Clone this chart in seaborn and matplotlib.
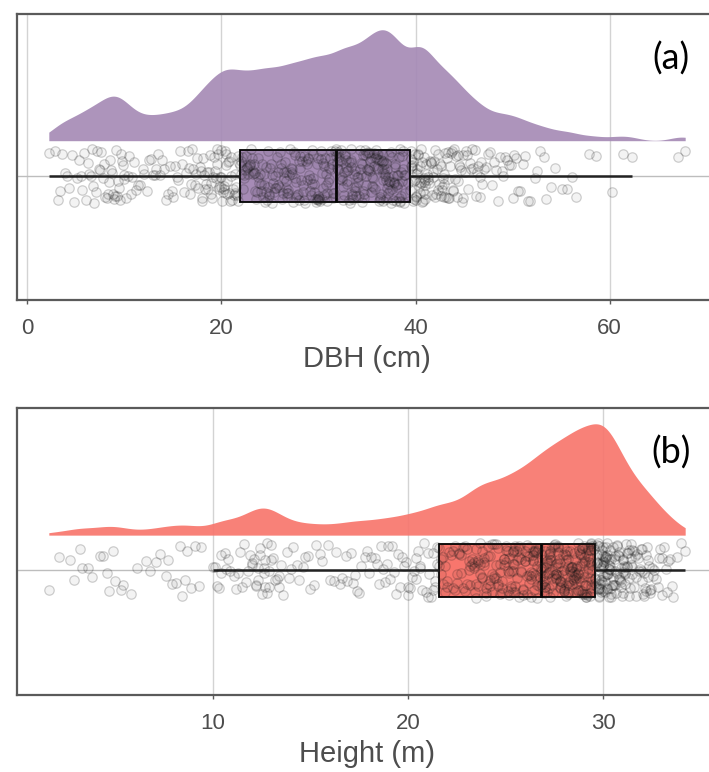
import numpy as np
import pandas as pd
import matplotlib
matplotlib.use("Agg")
import matplotlib.pyplot as plt
import seaborn as sns

# Diameter at breast height (cm), trees of sampling block 1
dbh_cm_block1 = [
    2.2,
    3.4, 3.9, 4.3, 4.8,
    5.1, 5.5, 5.8, 6.2, 6.5, 6.8,
    7.1, 7.4, 7.6, 7.9, 8.2, 8.5, 8.7, 8.9,
    9.1, 9.3, 9.5, 9.7, 9.9, 10.2, 10.5, 10.8,
    11.2, 11.6, 12.0, 12.5, 12.9,
    13.3, 13.7, 14.1, 14.5, 14.9,
    15.2, 15.5, 15.9, 16.3, 16.6, 16.9,
    17.1, 17.4, 17.6, 17.9, 18.0, 18.1, 18.3, 18.5, 18.7, 18.9,
    19.1, 19.3, 19.5, 19.6, 19.7, 19.8, 20.0, 20.1, 20.3, 20.4, 20.5, 20.6, 20.8, 20.9,
    21.1, 21.3, 21.4, 21.6, 21.7, 21.9, 22.0, 22.2, 22.3, 22.5, 22.6, 22.8, 22.9,
    23.1, 23.2, 23.4, 23.5, 23.7, 23.8, 24.0, 24.1, 24.3, 24.4, 24.6, 24.7, 24.8, 24.9,
    25.1, 25.2, 25.4, 25.5, 25.7, 25.8, 26.0, 26.1, 26.3, 26.4, 26.6, 26.7, 26.8, 26.9,
    27.1, 27.2, 27.3, 27.5, 27.6, 27.7, 27.9, 28.0, 28.1, 28.3, 28.4, 28.5, 28.7, 28.8, 28.9,
    29.1, 29.2, 29.3, 29.4, 29.5, 29.7, 29.8, 29.9, 30.0, 30.1, 30.3, 30.4, 30.5, 30.6, 30.7,
    30.8, 30.9,
    31.1, 31.2, 31.3, 31.4, 31.5, 31.7, 31.8, 31.9, 32.0, 32.1, 32.3, 32.4, 32.5, 32.6, 32.7,
    32.8, 32.9,
    33.1, 33.2, 33.3, 33.4, 33.5, 33.6, 33.7, 33.8, 33.9, 34.1, 34.2, 34.3, 34.4, 34.5, 34.6,
    34.7, 34.8, 34.9,
    35.1, 35.2, 35.3, 35.4, 35.5, 35.6, 35.7, 35.8, 35.9, 36.0, 36.0, 36.1, 36.2, 36.3, 36.4,
    36.5, 36.5, 36.6, 36.7, 36.8, 36.9,
    37.0, 37.1, 37.2, 37.3, 37.4, 37.5, 37.6, 37.7, 37.8, 37.9, 38.0, 38.1, 38.2, 38.3, 38.4,
    38.4, 38.5, 38.6, 38.7, 38.8, 38.9,
    39.2, 39.4, 39.5, 39.6, 39.7, 39.8, 39.9, 40.0, 40.1, 40.2, 40.3, 40.4, 40.5, 40.6, 40.7,
    40.8, 40.9, 40.95,
    41.0, 41.1, 41.3, 41.4, 41.6, 41.7, 41.8, 42.0, 42.1, 42.3, 42.4, 42.6, 42.7, 42.8, 42.9,
    43.1, 43.3, 43.4, 43.6, 43.8, 43.9, 44.1, 44.3, 44.4, 44.6, 44.8, 44.9,
    45.2, 45.4, 45.7, 45.9, 46.2, 46.4, 46.7, 46.9,
    47.3, 47.7, 48.1, 48.5, 48.9,
    49.2, 49.6, 50.0, 50.4, 50.8,
    51.3, 51.8, 52.3, 52.8,
    53.5, 54.4,
    55.6, 56.1,
    57.9,
    61.4,
    62.3,
    67.1, 67.8,
]

# Diameter at breast height (cm), trees of sampling block 2
dbh_cm_block2 = [
    2.8,
    3.1, 3.6, 4.1, 4.6,
    5.3, 5.6, 6.0, 6.3, 6.6, 6.9,
    7.2, 7.5, 7.8, 8.0, 8.3, 8.4, 8.6, 8.8,
    9.0, 9.2, 9.4, 9.6, 9.8, 10.0, 10.4, 10.7,
    11.0, 11.4, 11.9, 12.3, 12.7,
    13.1, 13.5, 13.9, 14.3, 14.7,
    15.0, 15.4, 15.7, 16.1, 16.5, 16.8,
    17.0, 17.3, 17.5, 17.8, 18.0, 18.2, 18.4, 18.6, 18.8, 18.9,
    19.0, 19.2, 19.4, 19.5, 19.7, 19.9, 20.0, 20.2, 20.3, 20.5, 20.6, 20.7, 20.8, 20.95,
    21.0, 21.2, 21.4, 21.5, 21.7, 21.8, 22.0, 22.1, 22.3, 22.4, 22.6, 22.7, 22.9,
    23.0, 23.2, 23.3, 23.5, 23.6, 23.8, 23.9, 24.1, 24.2, 24.4, 24.5, 24.6, 24.8, 24.9,
    25.0, 25.2, 25.3, 25.5, 25.6, 25.8, 25.9, 26.1, 26.2, 26.4, 26.5, 26.6, 26.8, 26.9,
    27.0, 27.2, 27.3, 27.4, 27.6, 27.7, 27.8, 28.0, 28.1, 28.2, 28.4, 28.5, 28.6, 28.8, 28.9,
    29.0, 29.1, 29.3, 29.4, 29.5, 29.6, 29.8, 29.9, 30.0, 30.2, 30.3, 30.4, 30.5, 30.6, 30.8,
    30.9, 30.95,
    31.1, 31.3, 31.5, 31.6, 31.8, 31.9, 32.0, 32.1, 32.2, 32.3, 32.4, 32.5, 32.6, 32.7, 32.8,
    32.9, 32.95,
    33.0, 33.1, 33.3, 33.4, 33.5, 33.7, 33.8, 33.9, 34.0, 34.1, 34.3, 34.4, 34.5, 34.6, 34.7,
    34.8, 34.9, 34.95,
    35.0, 35.1, 35.2, 35.3, 35.4, 35.5, 35.6, 35.7, 35.8, 35.9, 36.0, 36.1, 36.2, 36.3, 36.4,
    36.5, 36.6, 36.7, 36.8, 36.9, 36.95,
    37.0, 37.1, 37.15, 37.2, 37.3, 37.4, 37.5, 37.6, 37.7, 37.8, 37.9, 38.0, 38.1, 38.2, 38.3,
    38.4, 38.5, 38.6, 38.7, 38.8, 38.9,
    39.5, 39.5, 39.6, 39.7, 39.8, 39.9, 40.0, 40.1, 40.2, 40.3, 40.4, 40.5, 40.6, 40.7, 40.8,
    40.9, 40.9, 40.95,
    41.0, 41.2, 41.3, 41.5, 41.6, 41.8, 41.9, 42.0, 42.2, 42.3, 42.5, 42.6, 42.7, 42.9, 42.95,
    43.0, 43.2, 43.4, 43.5, 43.7, 43.9, 44.0, 44.2, 44.4, 44.5, 44.7, 44.9,
    45.1, 45.3, 45.6, 45.8, 46.1, 46.3, 46.6, 46.8,
    47.1, 47.5, 47.9, 48.3, 48.7,
    49.0, 49.4, 49.8, 50.2, 50.6,
    51.1, 51.6, 52.5,
    53.2, 54.0,
    55.1, 56.5,
    58.6,
    60.3,
]

# Total tree height (m), sampling block 1
height_m_block1 = [
    1.6, 2.7, 3.3, 3.8, 4.4, 4.7, 5.0, 5.3, 6.1, 6.8, 7.3, 7.7, 8.1, 8.4, 8.7, 9.1, 9.4,
    10.0, 10.2, 10.4,
    10.7, 10.9, 11.2, 11.4,
    11.6, 11.8, 12.0, 12.1, 12.2, 12.3, 12.4,
    12.6, 12.7, 12.8, 12.8, 12.9, 13.0, 13.2, 13.4,
    13.6, 13.9, 14.1, 14.4,
    14.7, 15.0, 15.3,
    15.6, 16.0, 16.3,
    16.6, 16.9, 17.2, 17.4,
    17.6, 17.9, 18.1, 18.4,
    18.6, 18.8, 19.0, 19.2, 19.4,
    19.6, 19.7, 19.9, 20.1, 20.2, 20.4,
    20.6, 20.7, 20.8, 21.0, 21.1, 21.3, 21.4,
    21.5, 21.6, 21.7, 21.8, 21.9, 22.0, 22.1, 22.3, 22.4,
    22.5, 22.6, 22.7, 22.8, 22.9, 23.0, 23.1, 23.2, 23.3, 23.4, 23.4,
    23.5, 23.6, 23.6, 23.7, 23.8, 23.8, 23.9, 24.0, 24.0, 24.1, 24.2, 24.2, 24.3, 24.4, 24.4,
    24.5, 24.6, 24.6, 24.7, 24.8, 24.8, 24.9, 25.0, 25.0, 25.1, 25.1, 25.2, 25.3, 25.3, 25.4,
    25.4, 25.45,
    25.5, 25.6, 25.6, 25.7, 25.7, 25.8, 25.8, 25.9, 26.0, 26.0, 26.1, 26.1, 26.2, 26.2, 26.3,
    26.3, 26.4, 26.4, 26.4,
    26.5, 26.5, 26.6, 26.6, 26.7, 26.7, 26.8, 26.8, 26.8, 26.9, 26.9, 27.0, 27.0, 27.0, 27.1,
    27.1, 27.2, 27.2, 27.3, 27.3, 27.4, 27.4, 27.4,
    27.5, 27.5, 27.6, 27.6, 27.6, 27.7, 27.7, 27.7, 27.8, 27.8, 27.8, 27.9, 27.9, 28.0, 28.0,
    28.0, 28.1, 28.1, 28.2, 28.2, 28.2, 28.3, 28.3, 28.3, 28.4, 28.4, 28.4,
    28.5, 28.5, 28.5, 28.6, 28.6, 28.6, 28.7, 28.7, 28.7, 28.8, 28.8, 28.8, 28.9, 28.9, 28.9,
    29.0, 29.0, 29.0, 29.1, 29.1, 29.1, 29.2, 29.2, 29.2, 29.3, 29.3, 29.3, 29.4, 29.4, 29.4,
    29.4, 29.4,
    29.5, 29.6, 29.6, 29.7, 29.7, 29.7, 29.8, 29.8, 29.8, 29.8, 29.9, 29.9, 29.9, 29.9, 30.0,
    30.0, 30.0, 30.0, 30.1, 30.1, 30.1, 30.1, 30.2, 30.2, 30.2, 30.2, 30.3, 30.3, 30.3, 30.4,
    30.4, 30.4,
    30.5, 30.5, 30.6, 30.6, 30.6, 30.7, 30.7, 30.8, 30.8, 30.9, 30.9, 31.0, 31.0, 31.0, 31.1,
    31.1, 31.2, 31.2, 31.3, 31.3, 31.4, 31.4,
    31.5, 31.6, 31.7, 31.7, 31.8, 31.9, 32.0, 32.0, 32.1, 32.1, 32.2, 32.3, 32.3, 32.4,
    32.5, 32.6, 32.8, 32.9, 33.0, 33.2, 33.3, 33.5,
    33.8, 34.2,
]

# Total tree height (m), sampling block 2
height_m_block2 = [
    2.1, 2.9, 3.2, 3.6, 4.2, 4.6, 4.9, 5.4, 5.8, 6.6, 7.1, 7.6, 7.9, 8.3, 8.6, 8.9, 9.3,
    10.1, 10.3, 10.4,
    10.6, 10.8, 11.1, 11.3,
    11.5, 11.7, 11.9, 12.0, 12.2, 12.3, 12.4,
    12.5, 12.6, 12.7, 12.9, 13.0, 13.1, 13.3, 13.4,
    13.5, 13.8, 14.0, 14.3,
    14.6, 14.9, 15.2,
    15.5, 15.9, 16.2,
    16.5, 16.8, 17.1, 17.3,
    17.5, 17.8, 18.0, 18.3,
    18.5, 18.7, 18.9, 19.1, 19.3,
    19.5, 19.8, 20.0, 20.0, 20.3, 20.4,
    20.5, 20.6, 20.9, 21.0, 21.2, 21.3, 21.4,
    21.5, 21.6, 21.7, 21.8, 21.9, 22.0, 22.2, 22.3, 22.4,
    22.5, 22.6, 22.7, 22.8, 22.9, 23.0, 23.1, 23.2, 23.3, 23.4, 23.45,
    23.5, 23.5, 23.6, 23.7, 23.7, 23.8, 23.9, 23.9, 24.0, 24.1, 24.1, 24.2, 24.3, 24.3, 24.4,
    24.5, 24.5, 24.6, 24.7, 24.7, 24.8, 24.9, 24.9, 25.0, 25.1, 25.2, 25.2, 25.3, 25.4, 25.4,
    25.4, 25.45,
    25.5, 25.5, 25.6, 25.7, 25.7, 25.8, 25.9, 25.9, 26.0, 26.1, 26.1, 26.2, 26.2, 26.3, 26.3,
    26.4, 26.4, 26.45, 26.45,
    26.5, 26.55, 26.6, 26.65, 26.7, 26.75, 26.8, 26.85, 26.9, 26.95, 27.0, 27.05, 27.1, 27.15,
    27.2, 27.25, 27.3, 27.35, 27.4, 27.45, 27.3, 27.2, 27.1,
    27.5, 27.55, 27.6, 27.65, 27.7, 27.75, 27.8, 27.85, 27.9, 27.95, 28.0, 28.05, 28.1, 28.15,
    28.2, 28.25, 28.3, 28.35, 28.4, 28.45, 27.6, 27.8, 28.0, 28.2, 28.4, 27.7, 28.1,
    28.5, 28.55, 28.6, 28.65, 28.7, 28.75, 28.8, 28.85, 28.9, 28.95, 29.0, 29.05, 29.1, 29.15,
    29.2, 29.25, 29.3, 29.35, 29.4, 29.45, 28.6, 28.7, 28.8, 28.9, 29.0, 29.1, 29.2, 29.3,
    29.4, 28.75, 29.05, 29.35,
    29.55, 29.6, 29.65, 29.7, 29.75, 29.8, 29.85, 29.9, 29.95, 30.0, 30.05, 30.1, 30.15, 30.2,
    30.25, 30.3, 30.35, 30.4, 30.45, 29.7, 29.8, 29.9, 30.0, 30.1, 30.2, 30.3, 30.4, 29.75,
    29.95, 30.15, 30.35, 30.0,
    30.5, 30.55, 30.6, 30.65, 30.7, 30.75, 30.8, 30.85, 30.9, 30.95, 31.0, 31.05, 31.1, 31.15,
    31.2, 31.25, 31.3, 31.35, 31.4, 31.45, 30.8, 31.1,
    31.5, 31.6, 31.65, 31.75, 31.85, 31.95, 32.0, 32.05, 32.15, 32.2, 32.25, 32.35, 32.4, 32.45,
    32.55, 32.7, 32.85, 33.0, 33.1, 33.25, 33.4, 33.6,
    34.0,
]

panel_tags = ["(a)", "(b)"]
axis_titles = ["DBH (cm)", "Height (m)"]
dbh_ticks = [0, 20, 40, 60]
height_ticks = [10, 20, 30]
fill_colours = ["#A68BB6", "#F8766D"]

sns.set_theme(style="white")
plt.rcParams["font.family"] = ["Liberation Sans", "DejaVu Sans"]

np.random.seed(7)

W, H = 709, 772
fig = plt.figure(figsize=(W / 100, H / 100), dpi=100)
fig.patch.set_facecolor("white")

# panel rectangles in pixels: left, top, right, bottom
panel_px = [(17, 14, 717, 300), (17, 408, 717, 695)]

frame_col = "#5A5A5A"
grid_col = "#D3D3D3"
text_col = "#4D4D4D"

# vertical extent of the categorical axis (box width 0.8 -> ~18% of panel)
y_span = 4.4
centre_frac = 0.434
base_frac = 0.557
peak_frac = 0.945


def raincloud(px, values, ticks, colour, xlabel, tag, bw):
    l, t, r, b = px
    rect = [l / W, 1 - b / H, (r - l) / W, (b - t) / H]
    ax = fig.add_axes(rect)
    ax.set_facecolor("white")

    df = pd.DataFrame({"value": values})

    # rain: box plot with jittered observations
    sns.boxplot(data=df, x="value", ax=ax, orient="h", width=0.8,
                color=colour, saturation=1, showfliers=False, showcaps=False,
                whis=1.5, linewidth=1.3, linecolor="black",
                medianprops=dict(linewidth=2.0, color="black"),
                whiskerprops=dict(linewidth=1.8, color="#222222"),
                zorder=2)
    sns.stripplot(data=df, x="value", ax=ax, orient="h", jitter=0.42,
                  size=6.8, color="black", linewidth=0.9,
                  edgecolor="black", zorder=3)
    pts = ax.collections[-1]
    pts.set_facecolor((0.1, 0.1, 0.1, 0.05))
    pts.set_edgecolor((0.1, 0.1, 0.1, 0.2))

    ax.axhline(0, color="#BDBDBD", lw=1.0, zorder=0.6)
    ax.set_ylim(centre_frac * y_span, -(1 - centre_frac) * y_span)
    ax.set_yticks([])
    ax.set_ylabel("")

    vmin, vmax = min(values), max(values)
    pad = 0.05 * (vmax - vmin)
    lo, hi = vmin - pad, vmax + pad
    ax.set_xticks(ticks)
    ax.xaxis.grid(True, color=grid_col, lw=1.0)
    ax.set_axisbelow(True)
    ax.tick_params(axis="x", length=3, width=1, color=frame_col,
                   labelsize=16, labelcolor=text_col, pad=10, bottom=True)
    ax.set_xlabel(xlabel, fontsize=21, color=text_col, labelpad=4)
    for s in ax.spines.values():
        s.set_color(frame_col)
        s.set_linewidth(1.6)

    # cloud: half density above the box
    ax2 = ax.twinx()
    sns.kdeplot(data=df, x="value", ax=ax2, fill=True, color=colour,
                alpha=0.92, linewidth=0, bw_adjust=bw, cut=0, gridsize=400)
    verts = ax2.collections[-1].get_paths()[0].vertices
    peak = verts[:, 1].max()
    rng = peak / (peak_frac - base_frac)
    ax2.set_ylim(-base_frac * rng, (1 - base_frac) * rng)
    ax2.set_yticks([])
    ax2.set_ylabel("")
    for s in ax2.spines.values():
        s.set_visible(False)
    ax.set_xlim(lo, hi)

    ax.text(671 / W, 1 - (t + 45) / H, tag, transform=fig.transFigure,
            ha="center", va="center", fontsize=26, color="black",
            family=["Lato", "DejaVu Sans"])


raincloud(panel_px[0], dbh_cm_block1 + dbh_cm_block2, dbh_ticks,
          fill_colours[0], axis_titles[0], panel_tags[0], 0.32)
raincloud(panel_px[1], height_m_block1 + height_m_block2, height_ticks,
          fill_colours[1], axis_titles[1], panel_tags[1], 0.32)

fig.savefig("out.png", dpi=100, facecolor="white")
